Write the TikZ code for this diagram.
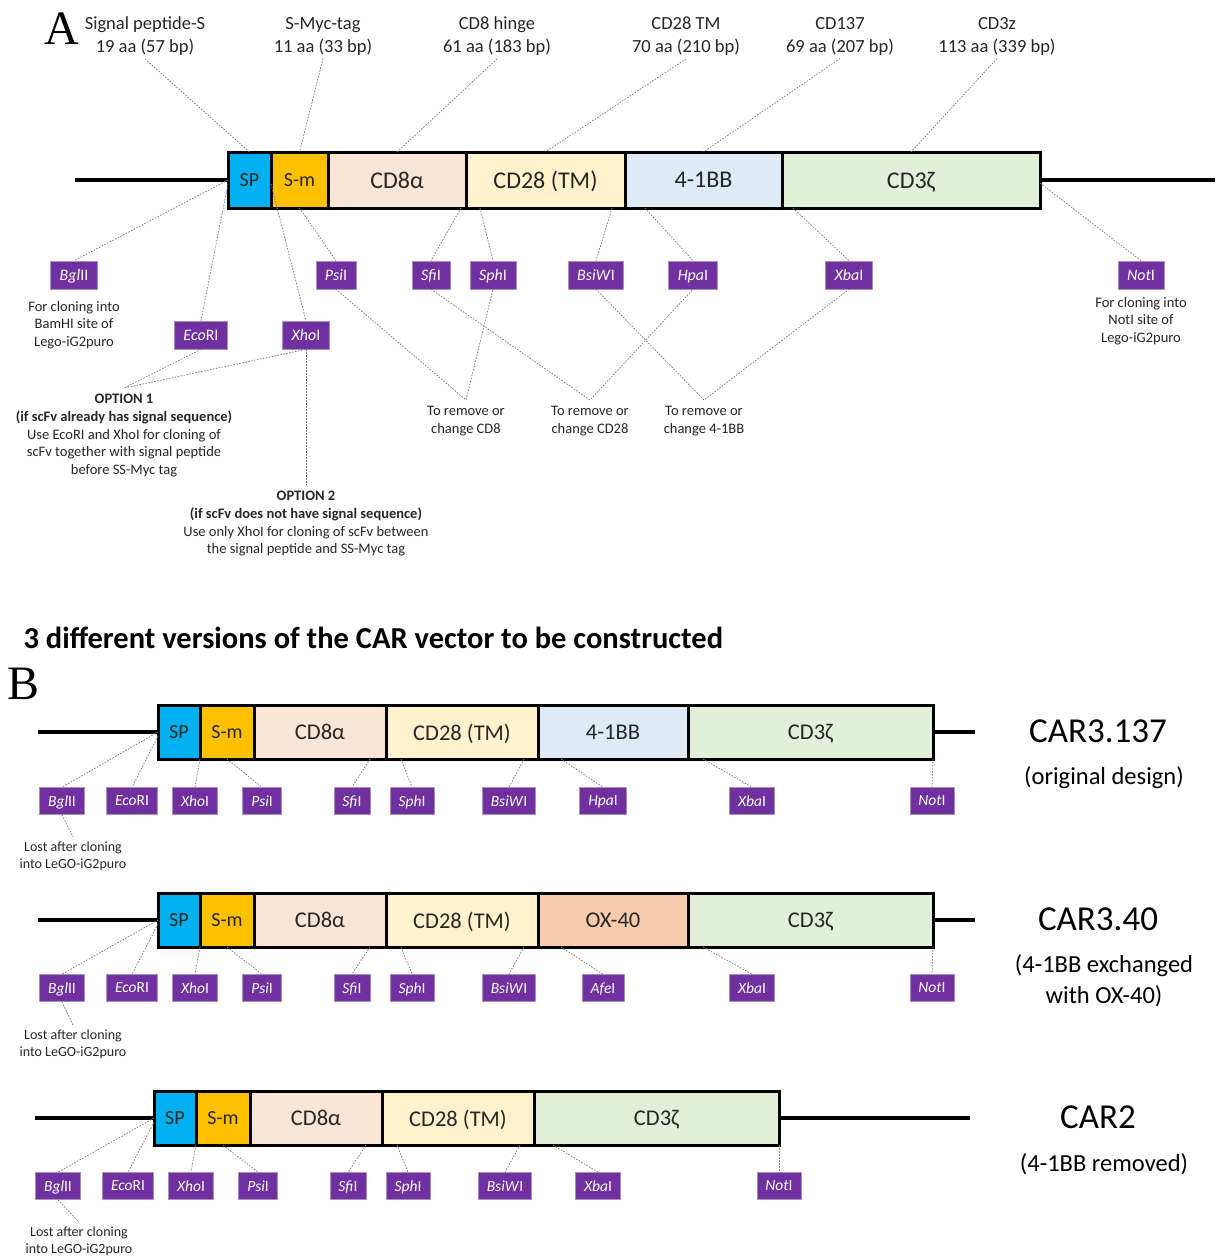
\documentclass[tikz,border=0pt]{standalone}
\usepackage{fontspec}
\setmainfont{Carlito}
\newfontfamily\panelfont{Liberation Serif}
\usetikzlibrary{positioning}
\definecolor{spblue}{RGB}{0,176,240}
\definecolor{smorange}{RGB}{255,192,0}
\definecolor{cdpink}{RGB}{251,229,214}
\definecolor{cdyellow}{RGB}{255,242,204}
\definecolor{bbblue}{RGB}{222,235,247}
\definecolor{zgreen}{RGB}{226,240,217}
\definecolor{oxorange}{RGB}{248,203,173}
\definecolor{enzpurple}{RGB}{112,48,160}
\definecolor{enzedge}{RGB}{165,145,185}
\definecolor{inktext}{RGB}{38,38,38}
\tikzset{
  block/.style={draw=black, line width=3pt, outer sep=0pt, inner sep=0pt,
    minimum height=56pt, text depth=0pt, text=inktext,
    font=\fontsize{24}{28}\selectfont},
  blockB/.style={block, minimum height=54pt, font=\fontsize{22.5}{26}\selectfont},
  small/.style={font=\fontsize{20}{22}\selectfont},
  enzyme/.style={fill=enzpurple, draw=enzedge, line width=0.6pt, text=white,
    minimum height=28pt, inner xsep=9pt, inner ysep=0pt, text depth=0pt,
    font=\fontsize{16}{18}\selectfont},
  enzymeB/.style={enzyme, minimum height=27pt, inner xsep=8.5pt,
    font=\fontsize{15.5}{18}\selectfont},
  leader/.style={draw=gray, line width=0.75pt, dash pattern=on 1.6pt off 1.4pt},
  strand/.style={line width=3.5pt},
  note/.style={align=center, inner sep=1pt, text=inktext,
    font=\fontsize{14.5}{17.7}\selectfont},
  lost/.style={note, font=\fontsize{14}{17}\selectfont},
  toplab/.style={align=center, text=inktext, font=\fontsize{18.5}{23}\selectfont},
  panel/.style={inner sep=0pt, font=\panelfont\fontsize{48}{48}\selectfont},
  carname/.style={font=\fontsize{35}{40}\selectfont},
  carsub/.style={align=center, font=\fontsize{24.5}{31}\selectfont},
}
\begin{document}
\begin{tikzpicture}[x=1pt,y=-1pt]
\useasboundingbox (0,0) rectangle (1219,1256);

% ---------- panel A ----------
\node[panel] (pA) at (62,29) {A};
\foreach \nm/\x/\lab in {sig/145/{Signal peptide-S\\19 aa (57 bp)}, myc/323/{S-Myc-tag\\11 aa (33 bp)},
    hin/497/{CD8 hinge\\61 aa (183 bp)}, tm/686/{CD28 TM\\70 aa (210 bp)},
    cs/840/{CD137\\69 aa (207 bp)}, zt/997/{CD3z\\113 aa (339 bp)}}
  \node[toplab] (t-\nm) at (\x,36) {\lab};

\node[block, small, fill=spblue, minimum width=43pt, anchor=west] (a-sp) at (228,180) {SP};
\node[block, small, fill=smorange, minimum width=57pt, right=0pt of a-sp] (a-sm) {S-m};
\node[block, fill=cdpink, minimum width=138pt, right=0pt of a-sm] (a-cd8) {CD8α};
\node[block, fill=cdyellow, minimum width=159pt, right=0pt of a-cd8] (a-tm) {CD28 (TM)};
\node[block, fill=bbblue, minimum width=157pt, right=0pt of a-tm] (a-bb) {4-1BB};
\node[block, fill=zgreen, minimum width=258pt, right=0pt of a-bb] (a-z) {CD3ζ};
\coordinate (a-l) at (75,180);
\coordinate (a-r) at (1215,180);
\draw[strand] (a-l) -- (a-sp.west);
\draw[strand] (a-z.east) -- (a-r);

\foreach \t/\b in {sig/sp, myc/sm, hin/cd8, tm/tm, cs/bb, zt/z}
  \draw[leader] (t-\t.south) -- (a-\b.north);

\foreach \nm/\x/\y/\lab in {bgl/74/275/{\textit{Bgl}II}, psi/336/275/{\textit{Psi}I},
    sfi/431/275/{\textit{Sfi}I}, sph/493/275/{\textit{Sph}I}, bsi/596/275/{\textit{BsiW}I},
    hpa/693/275/{\textit{Hpa}I}, xba/849/275/{\textit{Xba}I}, not/1141/275/{\textit{Not}I},
    eco/201/335/{\textit{Eco}RI}, xho/306/335/{\textit{Xho}I}}
  \node[enzyme] (a-\nm) at (\x,\y) {\lab};

\draw[leader] (a-sp.west) -- (a-bgl.north);
\draw[leader] ([yshift=-4pt]a-sp.west) -- (a-eco.north);
\draw[leader] ([yshift=-4pt]a-sm.west) -- (a-xho.north);
\draw[leader] (a-sm.south) -- (a-psi.north);
\draw[leader] ([xshift=-5pt]a-cd8.south east) -- (a-sfi.north);
\draw[leader] ([xshift=14pt]a-tm.south west) -- (a-sph.north);
\draw[leader] ([xshift=-13pt]a-tm.south east) -- (a-bsi.north);
\draw[leader] ([xshift=20pt]a-bb.south west) -- (a-hpa.north);
\draw[leader] ([xshift=11pt]a-z.south west) -- (a-xba.north);
\draw[leader] ([yshift=-3pt]a-z.east) -- (a-not.north);

\node[note] (n-bam) at (74,325) {For cloning into\\BamHI site of\\Lego-iG2puro};
\node[note] (n-not) at (1141,321) {For cloning into\\NotI site of\\Lego-iG2puro};

\coordinate (o1) at (124,388);
\coordinate (o2) at (306,485);
\coordinate (m8) at (466,400);
\coordinate (m28) at (590,400);
\coordinate (mbb) at (704,400);
\draw[leader] (a-eco.south) -- (o1) -- (a-xho.south);
\draw[leader] (a-xho.south) -- (o2);
\draw[leader] (a-psi.south) -- (m8) -- (a-sph.south);
\draw[leader] (a-sfi.south) -- (m28) -- (a-hpa.south);
\draw[leader] (a-bsi.south) -- (mbb) -- (a-xba.south);

\node[note, below=5pt of o1] (opt1) {\textbf{OPTION 1}\\\textbf{(if scFv already has signal sequence)}\\
  Use EcoRI and XhoI for cloning of\\scFv together with signal peptide\\before SS-Myc tag};
\node[note, below=5pt of o2] (opt2) {\textbf{OPTION 2}\\\textbf{(if scFv does not have signal sequence)}\\
  Use only XhoI for cloning of scFv between\\the signal peptide and SS-Myc tag};
\node[note, below=5pt of m8] (rm8) {To remove or\\change CD8};
\node[note, below=5pt of m28] (rm28) {To remove or\\change CD28};
\node[note, below=5pt of mbb] (rmbb) {To remove or\\change 4-1BB};

% ---------- panel B ----------
\node[anchor=west, font=\bfseries\fontsize{30.5}{34}\selectfont] (title) at (20,638)
  {3 different versions of the CAR vector to be constructed};
\node[panel] (pB) at (24,684) {B};

\foreach \r/\y/\ey/\col/\cs/\enz/\nm/\sy/\sub in {
    p/732/801/bbblue/4-1BB/{\textit{Hpa}I}/{CAR3.137}/778/{(original design)},
    q/920/988/oxorange/OX-40/{\textit{Afe}I}/{CAR3.40}/981/{(4-1BB exchanged\\with OX-40)}} {
  \node[blockB, small, fill=spblue, minimum width=42pt, anchor=west] (\r-sp) at (158,\y) {SP};
  \node[blockB, small, fill=smorange, minimum width=54pt, right=0pt of \r-sp] (\r-sm) {S-m};
  \node[blockB, fill=cdpink, minimum width=132pt, right=0pt of \r-sm] (\r-cd8) {CD8α};
  \node[blockB, fill=cdyellow, minimum width=152pt, right=0pt of \r-cd8] (\r-tm) {CD28 (TM)};
  \node[blockB, fill=\col, minimum width=150pt, right=0pt of \r-tm] (\r-cs) {\cs};
  \node[blockB, fill=zgreen, minimum width=245pt, right=0pt of \r-cs] (\r-z) {CD3ζ};
  \coordinate (\r-l) at (38,\y);
  \coordinate (\r-r) at (975,\y);
  \draw[strand] (\r-l) -- (\r-sp.west);
  \draw[strand] (\r-z.east) -- (\r-r);
  \foreach \e/\x/\lab in {bgl/62/{\textit{Bgl}II}, eco/132/{\textit{Eco}RI}, xho/195/{\textit{Xho}I},
      psi/262/{\textit{Psi}I}, sfi/352/{\textit{Sfi}I}, sph/412/{\textit{Sph}I},
      bsi/509/{\textit{BsiW}I}, xba/752/{\textit{Xba}I}, not/932/{\textit{Not}I}}
    \node[enzymeB] (\r-\e) at (\x,\ey) {\lab};
  \node[enzymeB] (\r-ce) at (603,\ey) {\enz};
  \draw[leader] (\r-sp.west) -- (\r-bgl.north);
  \draw[leader] ([yshift=-4pt]\r-sp.west) -- (\r-eco.north);
  \draw[leader] (\r-sp.south east) -- (\r-xho.north);
  \draw[leader] (\r-sm.south) -- (\r-psi.north);
  \draw[leader] ([xshift=-16pt]\r-cd8.south east) -- (\r-sfi.north);
  \draw[leader] ([xshift=15pt]\r-tm.south west) -- (\r-sph.north);
  \draw[leader] ([xshift=-14pt]\r-tm.south east) -- (\r-bsi.north);
  \draw[leader] ([xshift=23pt]\r-cs.south west) -- (\r-ce.north);
  \draw[leader] ([xshift=15pt]\r-z.south west) -- (\r-xba.north);
  \draw[leader] (\r-z.south east) -- (\r-not.north);
  \coordinate (\r-lp) at (73,\y+105);
  \draw[leader] (\r-bgl.south) -- (\r-lp);
  \node[lost, below=4pt of \r-lp] (\r-lost) {Lost after cloning\\into LeGO-iG2puro};
  \node[carname] (\r-name) at (1098,\y-1) {\nm};
  \node[carsub] (\r-sub) at (1104,\sy) {\sub};
}

% CAR2, no co-stimulatory block
\node[blockB, small, fill=spblue, minimum width=42pt, anchor=west] (r-sp) at (154,1118) {SP};
\node[blockB, small, fill=smorange, minimum width=54pt, right=0pt of r-sp] (r-sm) {S-m};
\node[blockB, fill=cdpink, minimum width=132pt, right=0pt of r-sm] (r-cd8) {CD8α};
\node[blockB, fill=cdyellow, minimum width=152pt, right=0pt of r-cd8] (r-tm) {CD28 (TM)};
\node[blockB, fill=zgreen, minimum width=245pt, right=0pt of r-tm] (r-z) {CD3ζ};
\coordinate (r-l) at (35,1118);
\coordinate (r-r) at (970,1118);
\draw[strand] (r-l) -- (r-sp.west);
\draw[strand] (r-z.east) -- (r-r);
\foreach \e/\x/\lab in {bgl/58/{\textit{Bgl}II}, eco/128/{\textit{Eco}RI}, xho/191/{\textit{Xho}I},
    psi/258/{\textit{Psi}I}, sfi/348/{\textit{Sfi}I}, sph/408/{\textit{Sph}I},
    bsi/505/{\textit{BsiW}I}, xba/598/{\textit{Xba}I}, not/779/{\textit{Not}I}}
  \node[enzymeB] (r-\e) at (\x,1186) {\lab};
\draw[leader] (r-sp.west) -- (r-bgl.north);
\draw[leader] ([yshift=-4pt]r-sp.west) -- (r-eco.north);
\draw[leader] (r-sp.south east) -- (r-xho.north);
\draw[leader] (r-sm.south) -- (r-psi.north);
\draw[leader] ([xshift=-16pt]r-cd8.south east) -- (r-sfi.north);
\draw[leader] ([xshift=15pt]r-tm.south west) -- (r-sph.north);
\draw[leader] ([xshift=-14pt]r-tm.south east) -- (r-bsi.north);
\draw[leader] ([xshift=19pt]r-z.south west) -- (r-xba.north);
\draw[leader] (r-z.south east) -- (r-not.north);
\coordinate (r-lp) at (79,1222);
\draw[leader] (r-bgl.south) -- (r-lp);
\node[lost, below=4pt of r-lp] (r-lost) {Lost after cloning\\into LeGO-iG2puro};
\node[carname] (r-name) at (1098,1117) {CAR2};
\node[carsub] (r-sub) at (1104,1164) {(4-1BB removed)};
\end{tikzpicture}
\end{document}
